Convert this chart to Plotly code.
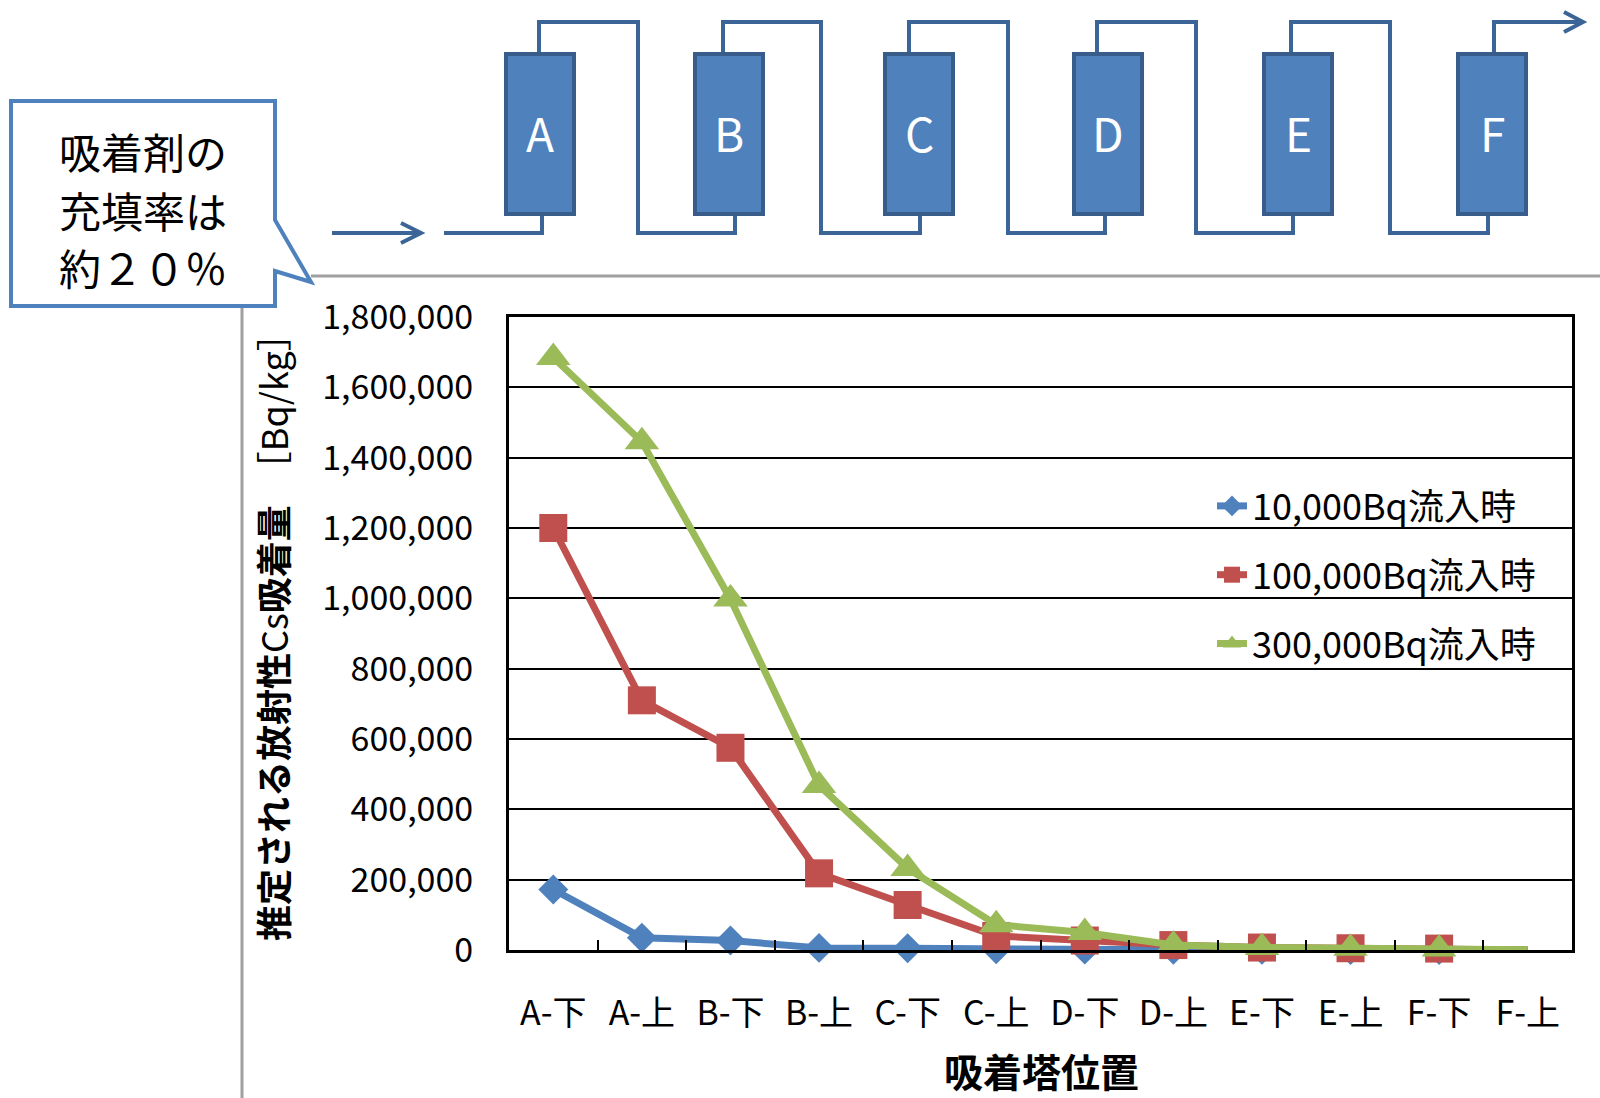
import plotly.graph_objects as go

W, H = 1600, 1098
FONT = "Noto Sans CJK JP"

# Sampling positions along the adsorption towers (bottom / top of each column)
positions = ["A-下", "A-上", "B-下", "B-上", "C-下", "C-上",
             "D-下", "D-上", "E-下", "E-上", "F-下", "F-上"]

# Estimated radioactive Cs adsorption [Bq/kg] for each inflow concentration
inflow_10k = [172000, 35000, 27000, 6000, 5000, 2000, 1000, 500, 300, 200, 100, 0]
inflow_100k = [1200000, 710000, 575000, 218000, 128000, 40000, 27000, 14000, 7000, 5000, 4000, 0]
inflow_300k = [1685000, 1445000, 998000, 468000, 232000, 72000, 50000, 14000, 7000, 5000, 3000, 1000]

series_names = ["10,000Bq流入時", "100,000Bq流入時", "300,000Bq流入時"]
series_colors = ["#4F81BD", "#C0504D", "#9BBB59"]
series_symbols = ["diamond", "square", "triangle-up"]
series_sizes = [23, 28, 30]

# Callout note
note_lines = ["吸着剤の", "充填率は", "約２０％"]

# Tower diagram layout (pixel geometry of the schematic)
tower_labels = ["A", "B", "C", "D", "E", "F"]
tower_left = [504, 693, 883, 1072, 1262, 1456]
tower_top_pipe = [539, 723, 909, 1097, 1291, 1494]
tower_bottom_pipe = [542, 735, 920, 1105, 1293, 1488]
riser_x = [638, 821, 1008, 1196, 1390]


def px(x):
    return x / W


def py(y):
    return 1 - y / H


def path(points, close=False):
    s = "M " + " L ".join(f"{px(x):.5f},{py(y):.5f}" for x, y in points)
    return s + (" Z" if close else "")


fig = go.Figure()

for vals, name, color, sym, size in zip(
        [inflow_10k, inflow_100k, inflow_300k], series_names,
        series_colors, series_symbols, series_sizes):
    sizes = [size] * (len(vals) - 1) + [0]
    fig.add_trace(go.Scatter(
        x=positions, y=vals, mode="lines+markers", name=name,
        line=dict(color=color, width=7),
        marker=dict(symbol=sym, size=sizes, color=color, opacity=1,
                    line=dict(width=0)),
        showlegend=False, cliponaxis=False,
    ))
    # legend entry
    fig.add_trace(go.Scatter(
        x=[None], y=[None], mode="lines+markers", name=name,
        line=dict(color=color, width=7),
        marker=dict(symbol=sym, size=size, color=color, opacity=1),
        legendgroup=name, showlegend=True,
    ))

shapes = []
PIPE = "#3B6596"
# gray separator lines
shapes.append(dict(type="line", xref="paper", yref="paper",
                   x0=px(311), y0=py(276), x1=px(1600), y1=py(276),
                   line=dict(color="#A0A0A0", width=3)))
shapes.append(dict(type="line", xref="paper", yref="paper",
                   x0=px(242), y0=py(306), x1=px(242), y1=py(1098),
                   line=dict(color="#A0A0A0", width=3)))

# inlet arrow
shapes.append(dict(type="path", xref="paper", yref="paper",
                   path=path([(332, 233), (420, 233)]),
                   line=dict(color=PIPE, width=4)))
shapes.append(dict(type="path", xref="paper", yref="paper",
                   path=path([(401, 223), (421, 233), (401, 243)]),
                   line=dict(color=PIPE, width=4)))
# inlet pipe into tower A
shapes.append(dict(type="path", xref="paper", yref="paper",
                   path=path([(444, 233), (tower_bottom_pipe[0], 233),
                              (tower_bottom_pipe[0], 214)]),
                   line=dict(color=PIPE, width=4)))
# pipes linking consecutive towers
for i in range(5):
    pts = [(tower_top_pipe[i], 54), (tower_top_pipe[i], 22), (riser_x[i], 22),
           (riser_x[i], 233), (tower_bottom_pipe[i + 1], 233),
           (tower_bottom_pipe[i + 1], 214)]
    shapes.append(dict(type="path", xref="paper", yref="paper",
                       path=path(pts), line=dict(color=PIPE, width=4)))
# outlet pipe
shapes.append(dict(type="path", xref="paper", yref="paper",
                   path=path([(tower_top_pipe[5], 54), (tower_top_pipe[5], 22),
                              (1580, 22)]),
                   line=dict(color=PIPE, width=4)))
shapes.append(dict(type="path", xref="paper", yref="paper",
                   path=path([(1564, 12), (1583, 22), (1564, 32)]),
                   line=dict(color=PIPE, width=4)))
# towers
for left in tower_left:
    shapes.append(dict(type="rect", xref="paper", yref="paper",
                       x0=px(left + 2), x1=px(left + 70), y0=py(214), y1=py(54),
                       fillcolor="#4F81BD", line=dict(color="#385D8A", width=4)))

# callout box
shapes.append(dict(type="path", xref="paper", yref="paper",
                   path=path([(11, 101), (275, 101), (275, 220), (311, 282),
                              (275, 271), (275, 306), (11, 306)], close=True),
                   fillcolor="white", line=dict(color="#4F81BD", width=4)))

# white backdrop of the legend, above gridlines but below the data lines
shapes.append(dict(type="rect", xref="paper", yref="paper", layer="between",
                   x0=px(1156), x1=px(1549), y0=py(673), y1=py(480),
                   fillcolor="white", line=dict(width=0)))

annotations = []
for lab, left in zip(tower_labels, tower_left):
    annotations.append(dict(xref="paper", yref="paper", x=px(left + 36), y=py(132),
                            xanchor="center", yanchor="middle",
                            text=lab, showarrow=False,
                            font=dict(family=FONT, size=46, color="white")))
for line_text, yy in zip(note_lines, [150, 209, 267]):
    annotations.append(dict(xref="paper", yref="paper", x=px(143), y=py(yy),
                            xanchor="center", yanchor="middle", borderpad=0,
                            text=line_text, showarrow=False,
                            font=dict(family=FONT, size=42, color="black")))
annotations.append(dict(xref="paper", yref="paper", x=px(1041), y=py(1070),
                        xanchor="center", yanchor="middle",
                        text="<b>吸着塔位置</b>", showarrow=False,
                        font=dict(family=FONT, size=39, color="black")))
annotations.append(dict(xref="paper", yref="paper", x=px(272), y=py(628),
                        xanchor="center", yanchor="middle",
                        text="<b>推定される放射性</b>Cs<b>吸着量</b>　［Bq/kg］",
                        textangle=-90, showarrow=False,
                        font=dict(family=FONT, size=36, color="black")))

fig.update_layout(
    width=W, height=H,
    margin=dict(l=0, r=0, t=0, b=0, autoexpand=False),
    paper_bgcolor="white", plot_bgcolor="white",
    font=dict(family=FONT, color="black"),
    shapes=shapes, annotations=annotations,
    legend=dict(x=px(1212), y=py(476), xanchor="left", yanchor="top",
                bgcolor="rgba(0,0,0,0)", borderwidth=0, tracegroupgap=19,
                font=dict(family=FONT, size=36, color="black")),
    xaxis=dict(domain=[px(509), px(1572)], type="category",
               range=[-0.5, 11.5], showgrid=False, automargin=False,
               showline=True, mirror=True, linecolor="black", linewidth=3,
               ticks="inside", tickson="boundaries", ticklen=10, tickwidth=2,
               tickcolor="black", ticklabelstandoff=31,
               tickfont=dict(family=FONT, size=34, color="black")),
    yaxis=dict(domain=[py(950), py(317)], range=[0, 1800000],
               dtick=200000, tickformat=",d", automargin=False,
               showgrid=True, gridcolor="black", gridwidth=2,
               showline=True, mirror=True, linecolor="black", linewidth=3,
               zeroline=False, ticks="", ticklabelstandoff=26,
               tickfont=dict(family=FONT, size=34, color="black")),
)

fig.write_html("out.html")
